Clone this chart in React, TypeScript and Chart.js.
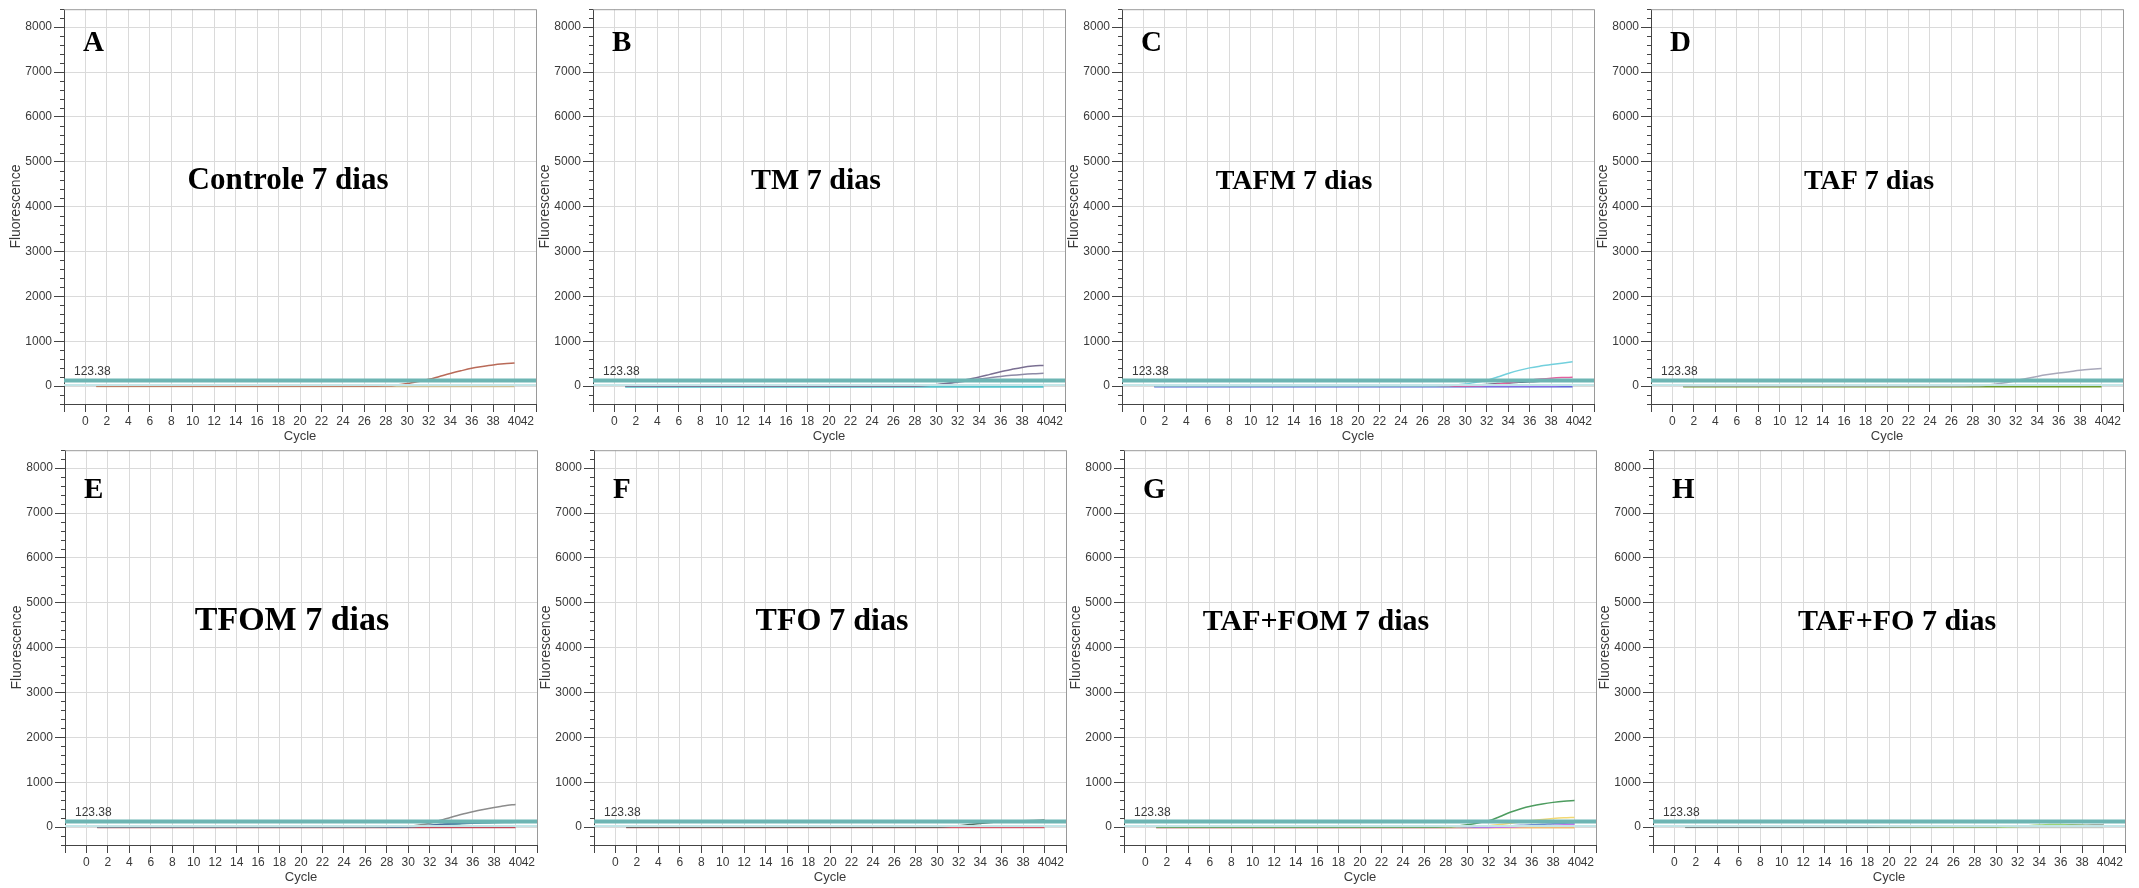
import React, { useEffect, useRef } from 'react';
import { Chart, registerables } from 'chart.js';

Chart.register(...registerables);

// ---------- data ----------
const CYCLES = [1, 10, 20, 26, 28, 29, 30, 31, 32, 33, 34, 35, 36, 37, 38, 39, 40];
const X_TICKS = [-2, 0, 2, 4, 6, 8, 10, 12, 14, 16, 18, 20, 22, 24, 26, 28, 30, 32, 34, 36, 38, 40, 42];
const Y_TICKS = [0, 1000, 2000, 3000, 4000, 5000, 6000, 7000, 8000];
const X_MIN = -2;
const X_MAX = 42;
const Y_MIN = -400;
const Y_MAX = 8400;
const Y_MINOR_STEP = 200;
const THRESHOLD = 123.38;
const THRESHOLD_LABEL = '123.38';
const LOWER_LINE = 25;

const A_RISE = [0, 0, 0, 0, 5, 20, 55, 100, 150, 215, 280, 340, 395, 435, 470, 495, 515];
const A_FLAT = [-8, -8, -8, -8, -8, -8, -8, -8, -8, -8, -8, -8, -8, -8, -8, -8, -8];

const B_RISE1 = [0, 0, 0, 0, 3, 10, 30, 60, 100, 150, 200, 260, 320, 370, 415, 445, 460];
const B_RISE2 = [0, 0, 0, 0, 3, 10, 28, 52, 85, 120, 155, 185, 215, 240, 260, 275, 285];
const B_FLAT = [-10, -10, -10, -10, -10, -10, -10, -10, -10, -10, -10, -10, -10, -10, -10, -10, -10];

const C_CYAN = [0, 0, 0, 0, 5, 20, 45, 85, 125, 200, 280, 350, 405, 445, 478, 510, 540];
const C_PINK = [0, 0, 0, 0, 0, 0, 2, 5, 20, 45, 70, 100, 130, 155, 175, 188, 195];
const C_DARK = [0, 0, 0, 0, 0, 5, 10, 20, 35, 55, 70, 85, 95, 105, 110, 115, 120];
const C_PURPLE = [5, 5, 5, 5, 5, 5, 5, 5, 5, 5, 5, 6, 7, 8, 9, 10, 10];
const C_BLUE = [-8, -8, -8, -8, -8, -8, -8, -8, -8, -8, -8, -8, -8, -8, -8, -8, -8];

const D_GRAY = [0, 0, 0, 0, 5, 15, 40, 75, 120, 170, 215, 255, 290, 320, 350, 372, 390];
const D_GREEN = [-8, -8, -8, -8, -8, -8, -8, -8, -8, -8, -8, -8, -8, -8, -8, -8, -8];

const E_GRAY = [0, 0, 0, 0, 5, 10, 20, 45, 85, 150, 220, 285, 340, 390, 435, 475, 505];
const E_BLUE1 = [0, 0, 0, 0, 0, 5, 15, 25, 40, 60, 80, 92, 100, 106, 110, 113, 115];
const E_BLUE2 = [0, 0, 0, 0, 0, 3, 10, 20, 35, 52, 70, 82, 92, 100, 105, 110, 112];
const E_TEAL = [0, 0, 0, 0, 0, 2, 8, 18, 30, 45, 60, 75, 85, 92, 98, 102, 105];
const E_RED = [-10, -10, -10, -10, -10, -10, -10, -10, -10, -10, -10, -10, -10, -10, -10, -10, -10];

const F_DARK = [0, 0, 0, 0, 0, 0, 3, 10, 30, 55, 80, 100, 115, 130, 140, 148, 155];
const F_RED = [-10, -10, -10, -10, -10, -10, -10, -10, -10, -10, -10, -10, -10, -10, -10, -10, -10];

const G_GREEN = [0, 0, 0, 0, 5, 20, 50, 90, 140, 230, 330, 410, 470, 515, 550, 575, 590];
const G_YELLOW = [0, 0, 0, 0, 0, 5, 10, 20, 30, 55, 85, 115, 145, 170, 190, 205, 215];
const G_BLUE = [0, 0, 0, 0, 0, 0, 5, 10, 15, 20, 25, 40, 50, 60, 75, 85, 90];
const G_PURPLE = [-10, -10, -10, -10, -10, -10, -10, -10, -10, -5, 0, 10, 20, 30, 40, 50, 60];
const G_ORANGE = [-8, -8, -8, -8, -8, -8, -8, -8, -8, -8, -8, -8, -8, -8, -8, -8, -8];

const H_DARK = [0, 0, 5, 10, 12, 15, 15, 18, 20, 22, 25, 28, 30, 32, 35, 38, 40];
const H_GREEN = [0, 0, 0, 0, 0, 0, 0, 5, 10, 30, 45, 55, 55, 50, 45, 40, 40];
const H_BASE = [-10, -10, -10, -10, -10, -10, -10, -10, -10, -10, -10, -10, -10, -10, -10, -10, -10];

type Series = { values: number[]; color: string; width?: number };
type PanelCfg = {
  letter: string;
  title: string;
  titleSize: number;
  axisX: number;
  plotTop: number;
  titleDx: number;
  letterDy: number;
  series: Series[];
};

const PANELS: PanelCfg[] = [
  { letter: 'A', title: 'Controle 7 dias', titleSize: 31, axisX: 64, plotTop: 8, titleDx: 224, letterDy: 42,
    series: [{ values: A_FLAT, color: '#cdbf96' }, { values: A_RISE, color: '#b96a58' }] },
  { letter: 'B', title: 'TM 7 dias', titleSize: 30, axisX: 593, plotTop: 8, titleDx: 223, letterDy: 42,
    series: [{ values: B_FLAT, color: '#56c3cb', width: 2.5 }, { values: B_RISE2, color: '#8d8aa6' }, { values: B_RISE1, color: '#7a6f92' }] },
  { letter: 'C', title: 'TAFM 7 dias', titleSize: 28, axisX: 1122, plotTop: 8, titleDx: 172, letterDy: 42,
    series: [{ values: C_BLUE, color: '#4b62d6', width: 2 }, { values: C_PURPLE, color: '#c46ff0' }, { values: C_DARK, color: '#58607a' }, { values: C_PINK, color: '#e3609e' }, { values: C_CYAN, color: '#72d0dd' }] },
  { letter: 'D', title: 'TAF 7 dias', titleSize: 28, axisX: 1651, plotTop: 8, titleDx: 218, letterDy: 42,
    series: [{ values: D_GREEN, color: '#6d9c2c', width: 2 }, { values: D_GRAY, color: '#a9a8ba' }] },
  { letter: 'E', title: 'TFOM 7 dias', titleSize: 34, axisX: 65, plotTop: 449, titleDx: 227, letterDy: 48,
    series: [{ values: E_RED, color: '#c34a5a' }, { values: E_TEAL, color: '#4e9ea4' }, { values: E_BLUE2, color: '#5f8fb0' }, { values: E_BLUE1, color: '#4b6c9c' }, { values: E_GRAY, color: '#8c8c8c' }] },
  { letter: 'F', title: 'TFO 7 dias', titleSize: 32, axisX: 594, plotTop: 449, titleDx: 238, letterDy: 48,
    series: [{ values: F_RED, color: '#d35b6b' }, { values: F_DARK, color: '#4d6b5e' }] },
  { letter: 'G', title: 'TAF+FOM 7 dias', titleSize: 30, axisX: 1124, plotTop: 449, titleDx: 192, letterDy: 48,
    series: [{ values: G_ORANGE, color: '#f1bb74', width: 2 }, { values: G_PURPLE, color: '#c674ea' }, { values: G_BLUE, color: '#6e8cd2' }, { values: G_YELLOW, color: '#f2d873' }, { values: G_GREEN, color: '#4d9c5f' }] },
  { letter: 'H', title: 'TAF+FO 7 dias', titleSize: 30, axisX: 1653, plotTop: 449, titleDx: 244, letterDy: 48,
    series: [{ values: H_BASE, color: '#c5cbc5' }, { values: H_GREEN, color: '#9cd474' }, { values: H_DARK, color: '#727289' }] },
];

// ---------- layout ----------
const CANVAS_W = 540;
const CANVAS_H = 446;
const Y_AXIS_W = 64;
const X_AXIS_H = 40;
const PLOT_W = 472;
const PLOT_H = 396;
const PAD_TOP = 8;
const X_TICK_LEN = 8;
const X_TICK_PAD = 2;

const FAMILY = '"Liberation Sans", Arial, sans-serif';
const TICK_FONT = { family: FAMILY, size: 12, lineHeight: 1.2 };
const X_TITLE_FONT = { family: FAMILY, size: 13, lineHeight: 1.2 };
const Y_TITLE_FONT = { family: FAMILY, size: 14, lineHeight: 1.2 };
const TEXT_COLOR = '#3a3a3a';

function decorPlugin(cfg: PanelCfg) {
  return {
    id: 'decor' + cfg.letter,
    afterDraw(chart: any) {
      const { ctx, chartArea } = chart;
      const ys = chart.scales.y;
      const xs = chart.scales.x;
      const { left, right, top, bottom } = chartArea;
      ctx.save();
      // top & right frame
      ctx.strokeStyle = '#9a9a9a';
      ctx.lineWidth = 1;
      ctx.beginPath();
      ctx.moveTo(left, top + 0.5);
      ctx.lineTo(right + 0.5, top + 0.5);
      ctx.lineTo(right + 0.5, bottom);
      ctx.stroke();
      // minor ticks on y axis
      ctx.strokeStyle = '#444';
      ctx.beginPath();
      for (let v = Y_MIN; v <= Y_MAX; v += Y_MINOR_STEP) {
        if (v % 1000 === 0) continue;
        const p = Math.round(ys.getPixelForValue(v)) + 0.5;
        ctx.moveTo(left - 4, p);
        ctx.lineTo(left, p);
      }
      ctx.stroke();
      // last x tick label squeezed inside the frame (as in the source software)
      ctx.fillStyle = TEXT_COLOR;
      ctx.font = `12px ${FAMILY}`;
      ctx.textAlign = 'right';
      ctx.textBaseline = 'middle';
      ctx.fillText(String(X_MAX), xs.getPixelForValue(X_MAX) - 2, xs.top + X_TICK_LEN + X_TICK_PAD + (12 * 1.2) / 2);
      // threshold label
      ctx.textAlign = 'left';
      ctx.textBaseline = 'alphabetic';
      ctx.fillText(THRESHOLD_LABEL, left + 10, ys.getPixelForValue(THRESHOLD) - 6);
      // panel letter
      ctx.fillStyle = '#000';
      ctx.font = 'bold 29px "Liberation Serif", "Times New Roman", serif';
      ctx.fillText(cfg.letter, left + 19, top + cfg.letterDy);
      // title
      ctx.font = `bold ${cfg.titleSize}px "Liberation Serif", "Times New Roman", serif`;
      ctx.textAlign = 'center';
      ctx.fillText(cfg.title, left + cfg.titleDx, top + 180);
      ctx.restore();
    },
  };
}

function Panel({ cfg }: { cfg: PanelCfg }) {
  const ref = useRef<HTMLCanvasElement>(null);
  useEffect(() => {
    const datasets: any[] = [
      {
        data: [{ x: X_MIN, y: THRESHOLD }, { x: X_MAX, y: THRESHOLD }],
        borderColor: '#6db5b3', borderWidth: 4, pointRadius: 0,
      },
      {
        data: [{ x: X_MIN, y: LOWER_LINE }, { x: X_MAX, y: LOWER_LINE }],
        borderColor: '#c4e6e8', borderWidth: 2, pointRadius: 0,
      },
      ...cfg.series.slice().reverse().map((s) => ({
        data: CYCLES.map((c, i) => ({ x: c, y: s.values[i] })),
        borderColor: s.color,
        borderWidth: s.width ?? 1.5,
        pointRadius: 0,
        cubicInterpolationMode: 'monotone',
      })),
    ];
    const chart = new Chart(ref.current as HTMLCanvasElement, {
      type: 'line',
      data: { datasets },
      options: {
        animation: false,
        responsive: false,
        devicePixelRatio: 1,
        layout: {
          padding: {
            left: 0,
            top: PAD_TOP,
            right: CANVAS_W - Y_AXIS_W - PLOT_W,
            bottom: CANVAS_H - PAD_TOP - PLOT_H - X_AXIS_H,
          },
        },
        plugins: { legend: { display: false }, tooltip: { enabled: false } },
        scales: {
          x: {
            type: 'linear',
            min: X_MIN,
            max: X_MAX,
            afterBuildTicks: (s: any) => { s.ticks = X_TICKS.map((v) => ({ value: v })); },
            afterFit: (s: any) => { s.height = X_AXIS_H; },
            ticks: {
              autoSkip: false, maxRotation: 0, padding: X_TICK_PAD, color: TEXT_COLOR, font: TICK_FONT,
              callback: (v: any) => (v === X_MIN || v === X_MAX ? '' : String(v)),
            },
            grid: { color: '#dadada', lineWidth: 1, tickColor: '#444', tickLength: X_TICK_LEN, drawTicks: true },
            border: { color: '#444', width: 1 },
            title: { display: true, text: 'Cycle', color: TEXT_COLOR, font: X_TITLE_FONT, padding: { top: 0, bottom: 0 } },
          },
          y: {
            type: 'linear',
            min: Y_MIN,
            max: Y_MAX,
            afterBuildTicks: (s: any) => { s.ticks = Y_TICKS.map((v) => ({ value: v })); },
            afterFit: (s: any) => { s.width = Y_AXIS_W; },
            ticks: { padding: 2, color: TEXT_COLOR, font: TICK_FONT, callback: (v: any) => String(v) },
            grid: { color: '#dadada', lineWidth: 1, tickColor: '#444', tickLength: 10, drawTicks: true },
            border: { color: '#444', width: 1 },
            title: { display: true, text: 'Fluorescence', color: TEXT_COLOR, font: Y_TITLE_FONT, padding: { top: 8, bottom: 0 } },
          },
        },
      },
      plugins: [decorPlugin(cfg)],
    } as any);
    return () => chart.destroy();
  }, [cfg]);
  return (
    <canvas
      ref={ref}
      width={CANVAS_W}
      height={CANVAS_H}
      style={{
        position: 'absolute',
        left: cfg.axisX - Y_AXIS_W,
        top: cfg.plotTop - PAD_TOP,
        width: CANVAS_W,
        height: CANVAS_H,
      }}
    />
  );
}

export default function App() {
  return (
    <div style={{ position: 'absolute', left: 0, top: 0, width: 2139, height: 888, background: '#fff', overflow: 'hidden' }}>
      {PANELS.map((p) => (
        <Panel key={p.letter} cfg={p} />
      ))}
    </div>
  );
}
